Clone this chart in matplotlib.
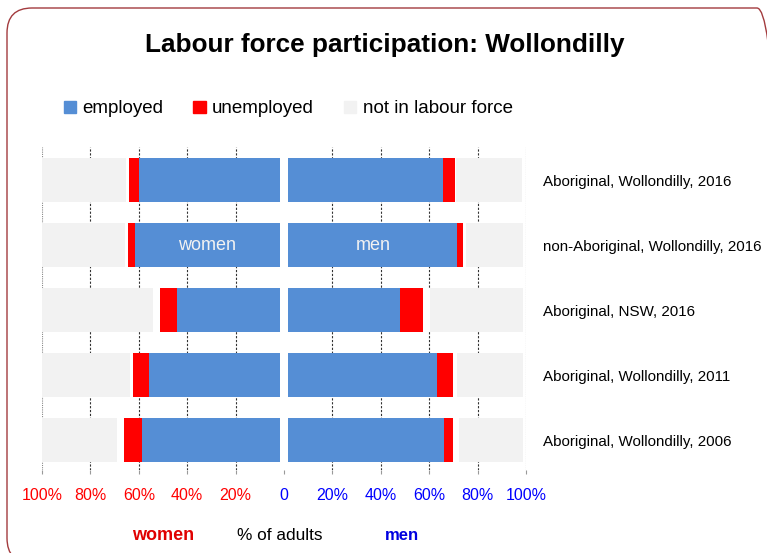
import matplotlib
matplotlib.use('Agg')
import matplotlib.pyplot as plt
from matplotlib.patches import FancyBboxPatch, Patch

plt.rcParams['font.family'] = ['Liberation Sans', 'DejaVu Sans']

# rows, top to bottom
rows = ['Aboriginal, Wollondilly, 2016', 'non-Aboriginal, Wollondilly, 2016',
        'Aboriginal, NSW, 2016', 'Aboriginal, Wollondilly, 2011',
        'Aboriginal, Wollondilly, 2006']

# % of adults
women_employed = [57.9, 59.9, 42.3, 54.1, 56.7]
women_unemployed = [4.5, 2.9, 7.3, 6.5, 7.4]
women_not_stated = [1.2, 1.2, 2.5, 1.4, 2.9]
women_nilf = [34.5, 34.1, 46.1, 36.2, 31.4]

men_employed = [63.8, 69.7, 46.1, 61.3, 64.3]
men_unemployed = [5.0, 2.6, 9.5, 6.6, 3.8]
men_not_stated = [0.6, 1.2, 2.9, 1.9, 2.5]
men_nilf = [27.0, 23.6, 38.6, 27.3, 26.4]

ticks = [-100, -80, -60, -40, -20, 0, 20, 40, 60, 80, 100]
tick_labels = ['100%', '80%', '60%', '40%', '20%', '0', '20%', '40%', '60%', '80%', '100%']

BLUE = '#558ED5'
RED = '#FF0000'
GREY = '#F2F2F2'
GAP = 1.85  # white gap either side of the centre line

fig = plt.figure(figsize=(7.67, 5.53), dpi=100)
ax = fig.add_axes([0.0548, 0.1501, 0.631, 0.5841])

y = list(range(len(rows)))
h = 0.68

for sign, series in [(-1, [women_employed, women_unemployed, women_not_stated, women_nilf]),
                     (1, [men_employed, men_unemployed, men_not_stated, men_nilf])]:
    colors = [BLUE, RED, 'white', GREY]
    left = [GAP] * len(rows)
    for vals, c in zip(series, colors):
        ax.barh(y, [sign * v for v in vals], left=[sign * l for l in left],
                height=h, color=c, edgecolor='none', zorder=2)
        left = [l + v for l, v in zip(left, vals)]

# labels inside the bars of row 2
ax.text(-(GAP + women_employed[1] / 2), 1, 'women', color='#F2F2F2',
        ha='center', va='center', fontsize=13, zorder=3)
ax.text(GAP + men_employed[1] / 2, 1, 'men', color='#F2F2F2',
        ha='center', va='center', fontsize=13, zorder=3)

for t in ticks:
    if t == 0:
        continue
    if abs(t) == 100:
        ax.axvline(t, color='#888888', ls=(0, (1, 1)), lw=0.8, zorder=1)
    else:
        ax.axvline(t, color='#333333', ls=(0, (2, 1.5)), lw=0.8, zorder=1)

ax.set_xlim(-100, 100)
ax.set_ylim(4.46, -0.51)
ax.set_xticks(ticks)
ax.set_xticklabels(tick_labels, fontsize=11.5)
for lab, t in zip(ax.get_xticklabels(), ticks):
    lab.set_color(RED if t < 0 else '#0000FF')
ax.tick_params(axis='x', length=3, color='#999999', pad=10)

ax.set_yticks(y)
ax.set_yticklabels(rows, fontsize=10.9)
ax.yaxis.tick_right()
ax.tick_params(axis='y', length=0, pad=12)
for s in ax.spines.values():
    s.set_visible(False)

fig.text(0.502, 0.918, 'Labour force participation: Wollondilly', ha='center', va='center',
         fontsize=18.8, fontweight='bold')

handles = [Patch(color=BLUE, label='employed'), Patch(color=RED, label='unemployed'),
           Patch(color=GREY, label='not in labour force')]
fig.legend(handles=handles, loc='center left', bbox_to_anchor=(0.061, 0.803), ncol=3,
           frameon=False, fontsize=13.5, handlelength=0.65, handleheight=0.65,
           handletextpad=0.35, columnspacing=1.6)

fig.text(0.213, 0.032, 'women', color='#E00000', fontweight='bold', fontsize=13,
         ha='center', va='center')
fig.text(0.365, 0.032, '% of adults', color='black', fontsize=12.4, ha='center', va='center')
fig.text(0.524, 0.032, 'men', color='#0000E0', fontweight='bold', fontsize=12,
         ha='center', va='center')

# rounded frame running off the right and bottom edges (inches)
border = FancyBboxPatch((0.07, -0.1), 7.75, 5.55,
                        boxstyle='round,pad=0,rounding_size=0.25',
                        transform=fig.dpi_scale_trans, fill=False,
                        edgecolor='#A33B3E', lw=1.0)
fig.patches.append(border)

fig.savefig('out.png', dpi=100)
